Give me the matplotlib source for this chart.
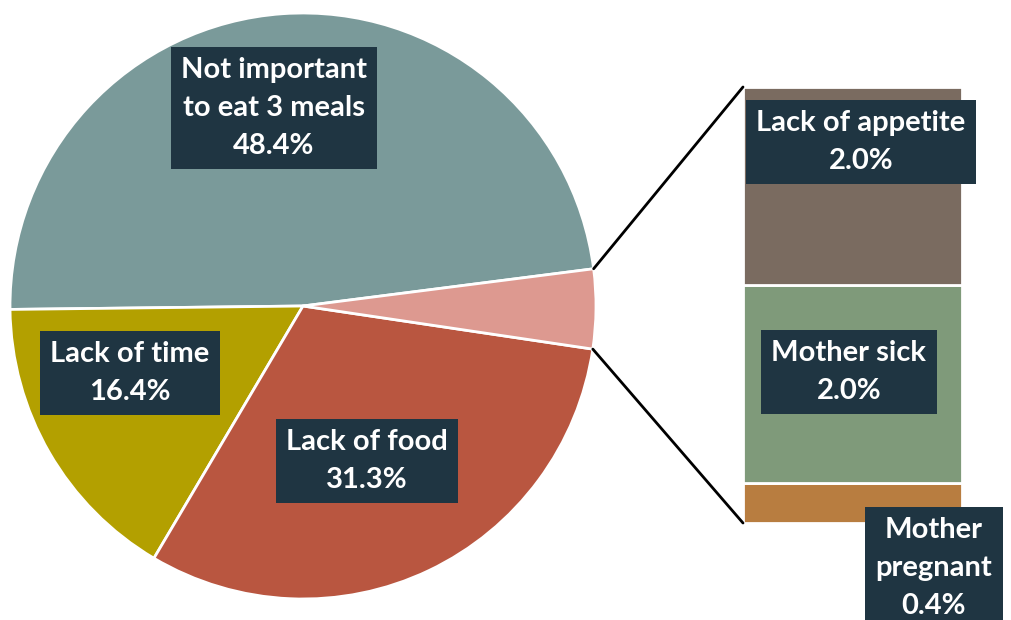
import matplotlib
matplotlib.use("Agg")
import matplotlib.pyplot as plt
from matplotlib.patches import ConnectionPatch
import numpy as np

# Main reasons (pie) and breakdown of "other" reasons (stacked bar)
pie_labels = ["Not important\nto eat 3 meals", "Lack of time", "Lack of food", "Other"]
pie_values = [48.4, 16.4, 31.3, 4.4]
pie_colors = ["#7a9a9a", "#b3a000", "#b95640", "#dd9990"]

bar_labels = ["Mother\npregnant", "Mother sick", "Lack of appetite"]
bar_values = [0.4, 2.0, 2.0]
bar_colors = ["#b87d40", "#7f9a7a", "#7a6b60"]

BOX = "#1f3542"
FONT = ["Lato", "DejaVu Sans"]

W, H = 1012, 620
fig = plt.figure(figsize=(W / 100, H / 100), dpi=100)
ax = fig.add_axes([0, 0, 1, 1])

cx, cy, r = 303, 314, 293
start = 7.3
wedges, _ = ax.pie(pie_values, colors=pie_colors, startangle=start, counterclock=True,
                   center=(cx, cy), radius=r, frame=True,
                   wedgeprops=dict(edgecolor="white", linewidth=2))
ax.set_xlim(0, W)
ax.set_ylim(0, H)
ax.set_aspect("equal")
ax.axis("off")

def label(x, y, s):
    # figure-level text so it is drawn above both axes
    fig.text(x, y, s, transform=ax.transData, ha="center", va="center",
             color="white", fontsize=21, fontweight="bold", family=FONT,
             linespacing=1.55, zorder=10,
             bbox=dict(boxstyle="square,pad=0.35", fc=BOX, ec="none"))

label(274, H - 108, f"{pie_labels[0]}\n{pie_values[0]:.1f}%")
label(130, H - 373, f"{pie_labels[1]}\n{pie_values[1]:.1f}%")
label(367, H - 461, f"{pie_labels[2]}\n{pie_values[2]:.1f}%")

# Stacked bar for the "Other" slice
bx0, bw = 743, 219
by0, bh = H - 523, 436
bax = fig.add_axes([bx0 / W, by0 / H, bw / W, bh / H])
bottom = 0
for v, c in zip(bar_values, bar_colors):
    bax.bar(0, v, bottom=bottom, width=1, color=c, edgecolor="white", linewidth=2)
    bottom += v
bax.set_xlim(-0.5, 0.5)
bax.set_ylim(0, sum(bar_values))
bax.axis("off")

# Connector lines from the "Other" wedge edges to the bar corners
other = wedges[-1]
for ang, ypt in [(other.theta2, sum(bar_values)), (other.theta1, 0)]:
    px = cx + r * np.cos(np.radians(ang))
    py = cy + r * np.sin(np.radians(ang))
    con = ConnectionPatch(xyA=(px, py), coordsA=ax.transData,
                          xyB=(-0.5, ypt), coordsB=bax.transData,
                          color="black", linewidth=2)
    fig.add_artist(con)

label(861, H - 142, f"{bar_labels[2]}\n{bar_values[2]:.1f}%")
label(849, H - 372, f"{bar_labels[1]}\n{bar_values[1]:.1f}%")
label(934, H - 568, f"{bar_labels[0]}\n{bar_values[0]:.1f}%")

fig.savefig("out.png", dpi=100, facecolor="white")
